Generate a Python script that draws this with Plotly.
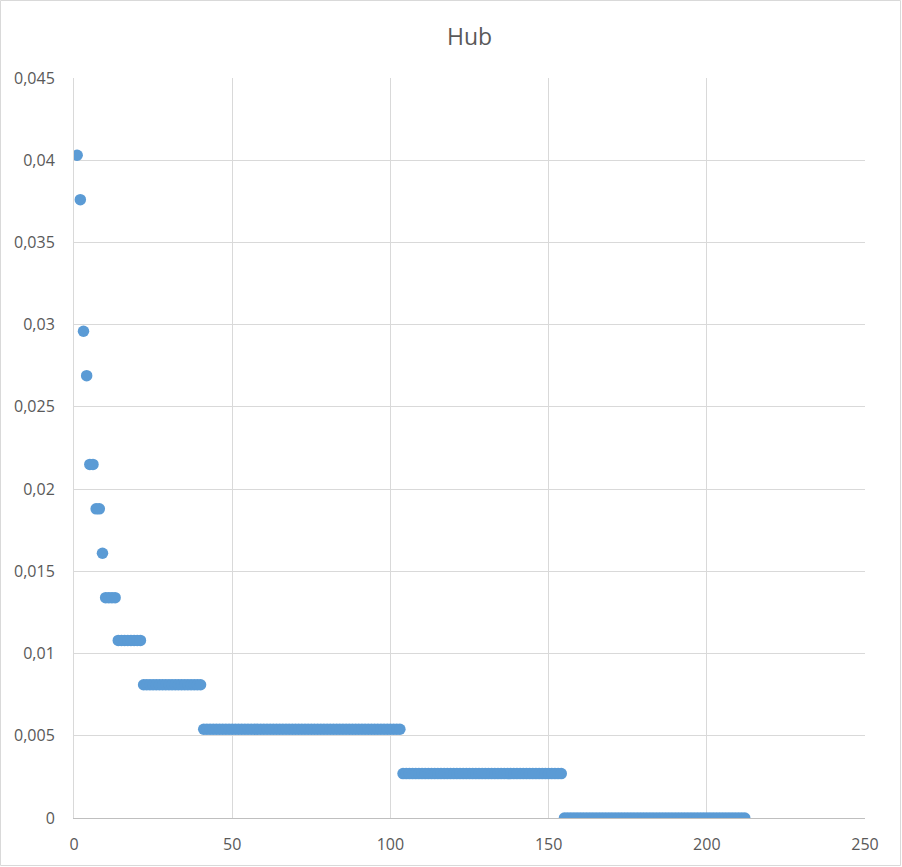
import plotly.graph_objects as go

# hub score levels and how many consecutive nodes share each level
y_levels = [0.0403, 0.0376, 0.0296, 0.0269, 0.0215, 0.0188, 0.0161, 0.0134, 0.0108, 0.0081, 0.0054, 0.0027, 0.0]
level_counts = [1, 1, 1, 1, 2, 2, 1, 4, 8, 19, 63, 51, 58]

y_tickvals = [0, 0.005, 0.01, 0.015, 0.02, 0.025, 0.03, 0.035, 0.04, 0.045]
y_ticktext = ["0", "0,005", "0,01", "0,015", "0,02", "0,025", "0,03", "0,035", "0,04", "0,045"]
x_tickvals = [0, 50, 100, 150, 200, 250]
x_ticktext = ["0", "50", "100", "150", "200", "250"]

ys = []
for v, c in zip(y_levels, level_counts):
    ys.extend([v] * c)
xs = list(range(1, len(ys) + 1))

fig = go.Figure(go.Scatter(
    x=xs, y=ys, mode="markers",
    marker=dict(color="#5B9BD5", size=11.5, line=dict(width=0)),
))

W, H = 902, 867
L, R, T, B = 74, 37, 78, 49
pw, ph = W - L - R, H - T - B

FONT = "Open Sans, Segoe UI, sans-serif"
fig.update_layout(
    width=W, height=H,
    margin=dict(l=L, r=R, t=T, b=B),
    paper_bgcolor="white", plot_bgcolor="white",
    title=dict(text="Hub", x=(L + pw / 2) / W, xanchor="center", y=1 - 37 / H, yanchor="middle",
               font=dict(family=FONT, size=23, color="#595959")),
    font=dict(family=FONT, size=16, color="#595959"),
    showlegend=False,
    shapes=[dict(type="rect", xref="paper", yref="paper",
                 x0=(0.5 - L) / pw, x1=(W - 1.5 - L) / pw,
                 y0=-(H - 1.5 - (T + ph)) / ph, y1=(T + ph - 0.5) / ph,
                 line=dict(color="#d9d9d9", width=1), layer="below")],
)
fig.update_xaxes(range=[0, 250], tickvals=x_tickvals, ticktext=x_ticktext,
                 showgrid=True, gridcolor="#d9d9d9", gridwidth=1,
                 zeroline=False, showline=True, linecolor="#bfbfbf", linewidth=1,
                 ticks="", ticklabelstandoff=12)
fig.update_yaxes(range=[0, 0.045], tickvals=y_tickvals, ticktext=y_ticktext,
                 showgrid=True, gridcolor="#d9d9d9", gridwidth=1,
                 zeroline=False, showline=True, linecolor="#d9d9d9", linewidth=1,
                 ticks="", ticklabelstandoff=15)

fig.write_html("out.html", config={"displayModeBar": False},
               post_script="document.body.style.margin='0';")
